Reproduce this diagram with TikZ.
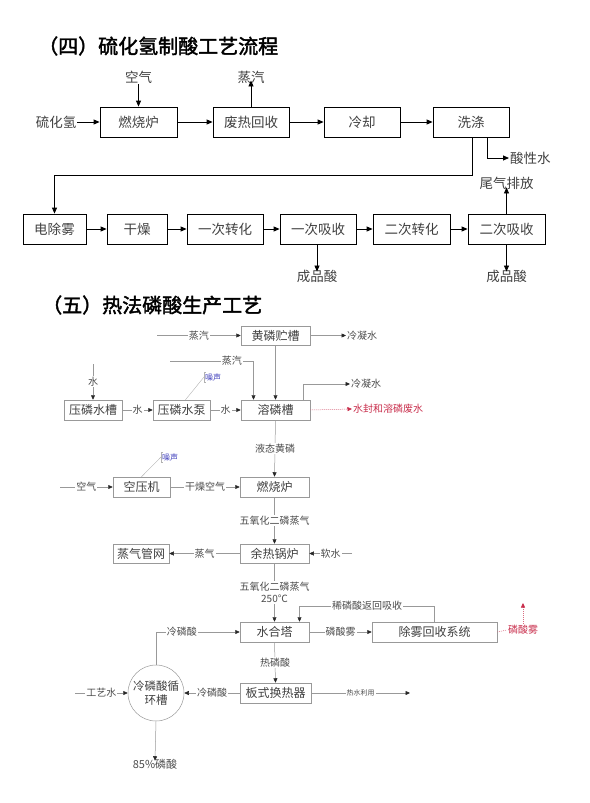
\documentclass[tikz,border=0pt]{standalone}
\usepackage{fontspec}
\setmainfont{Noto Sans CJK SC}
\newfontfamily\titlefont[FakeBold=2]{Noto Sans CJK SC}
\usetikzlibrary{arrows.meta,positioning,shapes.geometric}
\definecolor{mistred}{RGB}{200,45,75}
\definecolor{noiseblue}{RGB}{70,70,190}

\begin{document}
\begin{tikzpicture}
[x=1pt,y=-1pt,>={Triangle[length=6pt,width=5pt]},
box/.style = {draw, line width=0.8pt, minimum width=76pt, minimum height=30pt, inner sep=1pt, text=black!75, font=\fontsize{13.5}{14}\selectfont},
txt/.style = {text=black!75, inner sep=1pt, font=\fontsize{13.5}{14}\selectfont},
flow/.style = {->, line width=0.8pt},
unit/.style = {draw=black!40, line width=0.5pt, minimum height=20pt, inner sep=1pt, text=black!75, font=\fontsize{12}{12}\selectfont},
pipe/.style = {draw=black!40, line width=0.5pt, >={Triangle[length=4.5pt,width=4pt,color=black!85]}},
tag/.style = {fill=white, inner sep=1pt, text=black!70, font=\fontsize{10}{10}\selectfont},
note/.style = {inner sep=1pt, text=black!70, font=\fontsize{10}{10}\selectfont},
noise/.style = {inner sep=1pt, text=noiseblue, font=\fontsize{8}{8}\selectfont},
callout/.style = {draw=black!30, line width=0.4pt},
redline/.style = {draw=mistred!70, line width=0.5pt, dash pattern=on 1pt off 1pt, >={Triangle[length=4.5pt,width=4pt,color=mistred]}},
title/.style = {anchor=west, inner sep=0pt, font=\titlefont\fontsize{20}{20}\selectfont},
]
\useasboundingbox (0,0) rectangle (589,803);

% (四) 硫化氢制酸
\node[title] (t4) at (38,46) {（四）硫化氢制酸工艺流程};
\node[box, minimum width=77pt] (burner) at (138.5,122) {燃烧炉};
\node[box] (heat) at (251,122) {废热回收};
\node[box] (cool) at (362,122) {冷却};
\node[box] (wash) at (471,122) {洗涤};
\node[txt] (h2s) at (56,122) {硫化氢};
\node[txt] (air) at (138.5,77) {空气};
\node[txt] (steam) at (251,77) {蒸汽};
\node[box, minimum width=63pt] (mist) at (54.5,229) {电除雾};
\node[box, minimum width=60pt] (dry) at (137,229) {干燥};
\node[box] (conv1) at (225,229) {一次转化};
\node[box] (abs1) at (318,229) {一次吸收};
\node[box, minimum width=77pt] (conv2) at (411.5,229) {二次转化};
\node[box, minimum width=77pt] (abs2) at (506.5,229) {二次吸收};
\node[txt, anchor=west] (acidw) at (509,158) {酸性水};
\node[txt] (tail) at (506.5,183) {尾气排放};
\node[txt] (prod1) at (317,276) {成品酸};
\node[txt] (prod2) at (506.5,276) {成品酸};
\draw[flow] (h2s) -- (burner);
\draw[flow] (air) -- (burner);
\draw[flow] (burner) -- (heat);
\draw[flow] (heat.north) -- ([yshift=4pt]steam.south);
\draw[flow] (heat) -- (cool);
\draw[flow] (cool) -- (wash);
\draw[flow] ([xshift=1pt]wash.south) -- ++(0,38) -| (mist.north);
\draw[flow] ([xshift=16pt]wash.south) |- (acidw.west);
\draw[flow] (mist) -- (dry);
\draw[flow] (dry) -- (conv1);
\draw[flow] (conv1) -- (abs1);
\draw[flow] (abs1) -- (conv2);
\draw[flow] (conv2) -- (abs2);
\draw[flow] (abs2.north) -- ([yshift=3pt]tail.south);
\draw[flow] ([xshift=-1pt]abs1.south) -- ([yshift=-3pt]prod1.north);
\draw[flow] (abs2.south) -- ([yshift=-3pt]prod2.north);

% (五) 热法磷酸
\node[title] (t5) at (42,305) {（五）热法磷酸生产工艺};
\node[unit, minimum width=69pt, minimum height=19pt] (ptank) at (275.5,335.5) {黄磷贮槽};
\node[unit, minimum width=69pt] (dis) at (275.5,410) {溶磷槽};
\node[unit, minimum width=58pt] (wtank) at (93,410) {压磷水槽};
\node[unit, minimum width=57pt] (pump) at (181.5,410) {压磷水泵};
\node[unit, minimum width=57pt] (comp) at (141.5,487) {空压机};
\node[unit, minimum width=69pt] (burn) at (274.5,487) {燃烧炉};
\node[unit, minimum width=69pt, minimum height=19pt] (boil) at (274.5,553.5) {余热锅炉};
\node[unit, minimum width=56pt, minimum height=19pt] (net) at (141,553.5) {蒸气管网};
\node[unit, minimum width=69pt] (hyd) at (274.5,632) {水合塔};
\node[unit, minimum width=125pt] (demist) at (434.5,632) {除雾回收系统};
\node[unit, minimum width=71pt] (hx) at (275.5,693) {板式换热器};
\node[unit, circle, minimum size=56pt, align=center, font=\fontsize{11.5}{14}\selectfont] (circ) at (156,693) {冷磷酸循\\环槽};
\node[note, anchor=west] (cw1) at (346,335.5) {冷凝水};
\node[note, anchor=west] (cw2) at (350,384) {冷凝水};
\node[note, anchor=west, text=mistred] (ww) at (352,409) {水封和溶磷废水};
\node[noise, anchor=west] (nz1) at (204,377) {噪声};
\node[noise, anchor=west] (nz2) at (161,457) {噪声};
\node[note, text=mistred] (redmist) at (523,630) {磷酸雾};
\node[note, font=\fontsize{11}{11}\selectfont] (p85) at (155,764) {85\%磷酸};
\coordinate (st1) at (157,335.5);
\coordinate (st2) at (170,361);
\coordinate (w0) at (93,364);
\coordinate (a0) at (60,487);
\coordinate (sw0) at (352,553.5);
\coordinate (pw0) at (75,693);
\coordinate (hw) at (410,693);
\coordinate (rm) at (523,603);

\draw[pipe, ->] (st1) -- node[tag] {蒸汽} (ptank.west);
\draw[pipe, ->] (ptank.east) -- (cw1.west);
\draw[pipe, ->] (st2) -| node[tag, pos=0.37] {蒸汽} ([xshift=-22pt]dis.north);
\draw[pipe, ->] (ptank.south) -- (dis.north);
\draw[pipe, ->] (w0) -- node[tag] {水} (wtank.north);
\draw[pipe, ->] (wtank.east) -- node[tag] {水} (pump.west);
\draw[pipe, ->] (pump.east) -- node[tag] {水} (dis.west);
\draw[pipe, ->] ([xshift=28pt]dis.north) |- (cw2.west);
\draw[redline, ->] (dis.east) -- (ww.west);
\draw[pipe, ->] (dis.south) -- node[tag] {液态黄磷} (burn.north);
\draw[pipe, ->] (a0) -- node[tag] {空气} (comp.west);
\draw[pipe, ->] (comp.east) -- node[tag] {干燥空气} (burn.west);
\draw[pipe, ->] (burn.south) -- node[tag] {五氧化二磷蒸气} (boil.north);
\draw[pipe, ->] (boil.west) -- node[tag] {蒸气} (net.east);
\draw[pipe, ->] (sw0) -- node[tag] {软水} (boil.east);
\draw[pipe, ->] (boil.south) -- node[tag, align=center, font=\fontsize{10}{12}\selectfont] {五氧化二磷蒸气\\250℃} (hyd.north);
\draw[pipe, ->] (hyd.east) -- node[tag] {磷酸雾} (demist.west);
\draw[pipe, ->] (demist.north) -- ++(0,-16) -| node[tag, pos=0.25] {稀磷酸返回吸收} ([xshift=25pt]hyd.north);
\draw[redline] (demist.east) -- (redmist.west);
\draw[redline, ->] (redmist.north) -- (rm);
\draw[pipe, ->] (circ.north) |- node[tag, pos=0.655] {冷磷酸} (hyd.west);
\draw[pipe, ->] (hyd.south) -- node[tag] {热磷酸} (hx.north);
\draw[pipe, ->] (hx.west) -- node[tag] {冷磷酸} (circ.east);
\draw[pipe, ->] (pw0) -- node[tag] {工艺水} (circ.west);
\draw[pipe, ->] (circ.south) -- ([yshift=-3pt]p85.north);
\draw[pipe, ->] (hx.east) -- node[tag, font=\fontsize{7}{7}\selectfont] {热水利用} (hw);
% callouts
\draw[callout] ([xshift=2pt]nz1.north west) -- (nz1.north west) -- (nz1.south west) -- ([xshift=2pt]nz1.south west);
\draw[callout] (nz1.west) -- ([xshift=4pt]pump.north);
\draw[callout] ([xshift=2pt]nz2.north west) -- (nz2.north west) -- (nz2.south west) -- ([xshift=2pt]nz2.south west);
\draw[callout] (nz2.west) -- (comp.north);
\end{tikzpicture}
\end{document}
